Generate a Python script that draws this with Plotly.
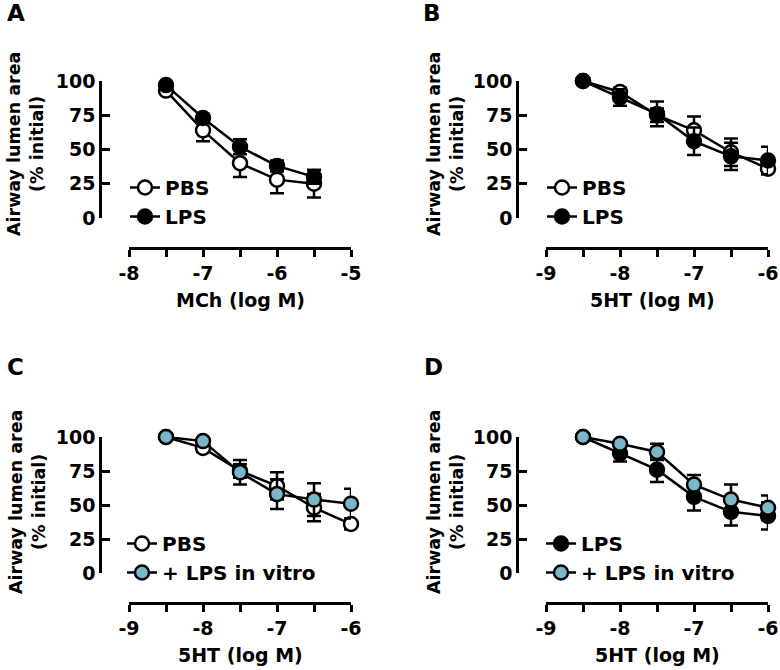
import plotly.graph_objects as go

# concentrations (log M)
mch_x = [-7.5, -7.0, -6.5, -6.0, -5.5]
ht_x = [-8.5, -8.0, -7.5, -7.0, -6.5, -6.0]

# A: MCh
pbs_mch = [93, 64, 40, 28, 25]
pbs_mch_err = [2, 8, 10, 10, 10]
lps_mch = [97, 73, 52, 38, 30]
lps_mch_err = [2, 3, 5.5, 4, 5]

# B / C / D: 5HT
pbs_5ht = [100, 92, 75, 64, 48, 36]
pbs_5ht_err = [0, 3, 5, 10, 10, 4]
lps_5ht = [100, 88, 76, 56, 45, 42]
lps_5ht_err = [0, 6, 9, 10, 10, 10]
pbs_vitro = [100, 97, 74, 58, 54, 51]
pbs_vitro_err = [0, 2, 9, 11, 12, 11]
lps_vitro = [100, 95, 89, 65, 54, 48]
lps_vitro_err = [0, 2, 6, 7, 11, 9]

y_ticks = [0, 25, 50, 75, 100]

W, H = 780, 670
BLUE = "#7AB8C9"
FONT = "DejaVu Sans"


def px(x):
    return x / W


def py(y):
    return 1 - y / H


fig = go.Figure()


def add_series(x, y, err, name, fill, idx, legend):
    fig.add_trace(go.Scatter(
        x=x, y=y, name=name, mode="lines+markers",
        xaxis="x" + ("" if idx == 1 else str(idx)),
        yaxis="y" + ("" if idx == 1 else str(idx)),
        legend=legend, cliponaxis=False,
        line=dict(color="black", width=2.5),
        marker=dict(size=14, color=fill, line=dict(color="black", width=2.5)),
        error_y=dict(type="data", array=err, color="black", thickness=2.5, width=7),
    ))


add_series(mch_x, pbs_mch, pbs_mch_err, "PBS", "white", 1, "legend")
add_series(mch_x, lps_mch, lps_mch_err, "LPS", "black", 1, "legend")
add_series(ht_x, pbs_5ht, pbs_5ht_err, "PBS", "white", 2, "legend2")
add_series(ht_x, lps_5ht, lps_5ht_err, "LPS", "black", 2, "legend2")
add_series(ht_x, pbs_5ht, pbs_5ht_err, "PBS", "white", 3, "legend3")
add_series(ht_x, pbs_vitro, pbs_vitro_err, "+ LPS in vitro", BLUE, 3, "legend3")
add_series(ht_x, lps_5ht, lps_5ht_err, "LPS", "black", 4, "legend4")
add_series(ht_x, lps_vitro, lps_vitro_err, "+ LPS in vitro", BLUE, 4, "legend4")

tick_font = dict(family=FONT, size=19, color="black", weight="bold")
axis_style = dict(showgrid=False, zeroline=False, showline=True, linecolor="black",
                  linewidth=2.5, tickcolor="black", tickwidth=2.5, tickfont=tick_font)

# panel geometry in pixels: (x_left, x_right, y_axis_x, y_top, y_bottom, x_axis_y, xrange)
panels = [
    (129, 351, 100, 81, 218, 248, [-8, -5]),
    (546, 768, 517, 81, 218, 248, [-9, -6]),
    (129, 351, 100, 437, 573, 603, [-9, -6]),
    (546, 768, 517, 437, 573, 603, [-9, -6]),
]

layout = {}
for i, (xl, xr, ya, yt, yb, xa, xr_rng) in enumerate(panels, start=1):
    s = "" if i == 1 else str(i)
    lo, hi = xr_rng
    tv = [lo + 0.5 * k for k in range(int((hi - lo) * 2) + 1)]
    tt = [str(int(v)) if v == int(v) else "" for v in tv]
    layout["xaxis" + s] = dict(axis_style, domain=[px(xl), px(xr)], range=xr_rng,
                               anchor="free", position=py(xa), tickvals=tv, ticktext=tt,
                               ticks="outside", ticklen=7)
    layout["yaxis" + s] = dict(axis_style, domain=[py(yb), py(yt)], range=[0, 100],
                               anchor="free", position=px(ya), tickvals=y_ticks,
                               ticks="inside", ticklen=8)

leg_font = dict(family=FONT, size=20, color="black", weight="bold")
leg_pos = [(125, 168), (542, 168), (122, 524), (541, 524)]
for i, (lx, ly) in enumerate(leg_pos, start=1):
    s = "" if i == 1 else str(i)
    layout["legend" + s] = dict(x=px(lx), y=py(ly), xanchor="left", yanchor="top",
                                font=leg_font, bgcolor="rgba(0,0,0,0)", borderwidth=0,
                                itemclick=False)

ann = []
title_font = dict(family=FONT, size=19, color="black", weight="bold")
ytitle_font = dict(family=FONT, size=17.5, color="black", weight="bold")
for letter, (x, y) in zip("ABCD", [(16, 13), (432, 13), (15, 367), (433, 367)]):
    ann.append(dict(text=letter, x=px(x), y=py(y), xref="paper", yref="paper",
                    xanchor="center", yanchor="middle", showarrow=False,
                    font=dict(family=FONT, size=23, color="black", weight="bold")))
for (x, y) in [(25, 144), (445, 144), (27, 502), (445, 502)]:
    ann.append(dict(text="Airway lumen area<br>(% initial)", x=px(x), y=py(y),
                    xref="paper", yref="paper", xanchor="center", yanchor="middle",
                    showarrow=False, textangle=-90, font=ytitle_font))
for text, (x, y) in zip(["MCh (log M)", "5HT (log M)", "5HT (log M)", "5HT (log M)"],
                        [(240, 300), (652, 300), (240, 655), (657, 655)]):
    ann.append(dict(text=text, x=px(x), y=py(y), xref="paper", yref="paper",
                    xanchor="center", yanchor="middle", showarrow=False, font=title_font))

fig.update_layout(
    width=W, height=H,
    margin=dict(l=0, r=0, t=0, b=0, autoexpand=False),
    paper_bgcolor="white", plot_bgcolor="white",
    showlegend=True,
    annotations=ann,
    **layout,
)

fig.write_html("out.html", config={"displayModeBar": False},
               post_script="document.body.style.margin='0';document.body.style.overflow='hidden';")
